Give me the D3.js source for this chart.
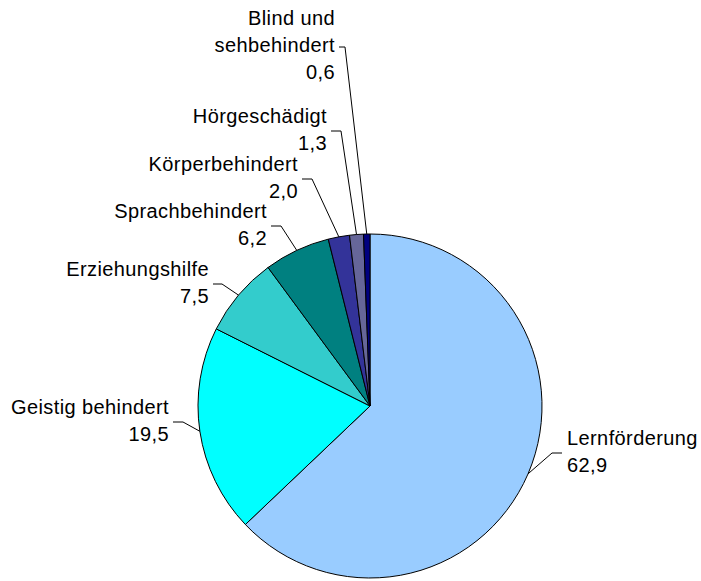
<!DOCTYPE html>
<html>
<head>
<meta charset="utf-8">
<script src="https://cdn.jsdelivr.net/npm/d3@7"></script>
<style>
  html, body { margin: 0; padding: 0; background: #fff; }
  svg text { font-family: "Liberation Sans", Arial, sans-serif; font-size: 20px; letter-spacing: 0.4px; fill: #000; }
</style>
</head>
<body>
<svg id="chart" width="701" height="581"></svg>
<script>
// ---- data ----
const categories = ["Lernförderung", "Geistig behindert", "Erziehungshilfe", "Sprachbehindert", "Körperbehindert", "Hörgeschädigt", "Blind und sehbehindert"];
const values = [62.9, 19.5, 7.5, 6.2, 2.0, 1.3, 0.6];
const labelLines = [["Lernförderung"], ["Geistig behindert"], ["Erziehungshilfe"], ["Sprachbehindert"], ["Körperbehindert"], ["Hörgeschädigt"], ["Blind und", "sehbehindert"]];
const colors = ["#99CCFF", "#00FFFF", "#33CCCC", "#008080", "#333399", "#666699", "#000080"];

// ---- layout (label elbow points, side) ----
const labelLayout = [
  { x: 552, y: 453, len: 10, side: "right" },
  { x: 183, y: 422, len: 10, side: "left" },
  { x: 222, y: 284, len: 9,  side: "left" },
  { x: 281, y: 226, len: 10, side: "left" },
  { x: 312, y: 179, len: 10, side: "left" },
  { x: 341, y: 131, len: 10, side: "left" },
  { x: 345, y: 47,  len: 6,  side: "left" }
];

const cx = 370, cy = 406, R = 172, lh = 27;
const fmt = v => d3.format(".1f")(v).replace(".", ",");

const svg = d3.select("#chart");
const data = categories.map((c, i) => ({ name: c, value: values[i], lines: labelLines[i], color: colors[i], lay: labelLayout[i] }));

const pie = d3.pie().value(d => d.value).sort(null);
const arcs = pie(data);
const arc = d3.arc().innerRadius(0).outerRadius(R);

const g = svg.append("g").attr("transform", `translate(${cx},${cy})`);
g.selectAll("path.slice").data(arcs).join("path")
  .attr("class", "slice")
  .attr("d", arc)
  .attr("fill", d => d.data.color)
  .attr("stroke", "#000")
  .attr("stroke-width", 1);

// leader lines and labels
arcs.forEach(a => {
  const mid = (a.startAngle + a.endAngle) / 2;
  const px = cx + R * Math.sin(mid), py = cy - R * Math.cos(mid);
  const L = a.data.lay;
  const ex = L.side === "right" ? L.x + L.len : L.x - L.len;
  svg.append("path")
    .attr("d", d3.line()([[px, py], [L.x, L.y], [ex, L.y]]))
    .attr("fill", "none")
    .attr("stroke", "#000")
    .attr("stroke-width", 1);

  const lines = a.data.lines.concat([fmt(a.data.value)]);
  const n = lines.length;
  const tx = L.side === "right" ? ex + 5 : ex - 4;
  const firstBase = L.y - (n - 1) * lh / 2 + 5;
  const t = svg.append("text")
    .attr("text-anchor", L.side === "right" ? "start" : "end");
  lines.forEach((s, k) => {
    t.append("tspan").attr("x", tx).attr("y", firstBase + k * lh).text(s);
  });
});
</script>
</body>
</html>
